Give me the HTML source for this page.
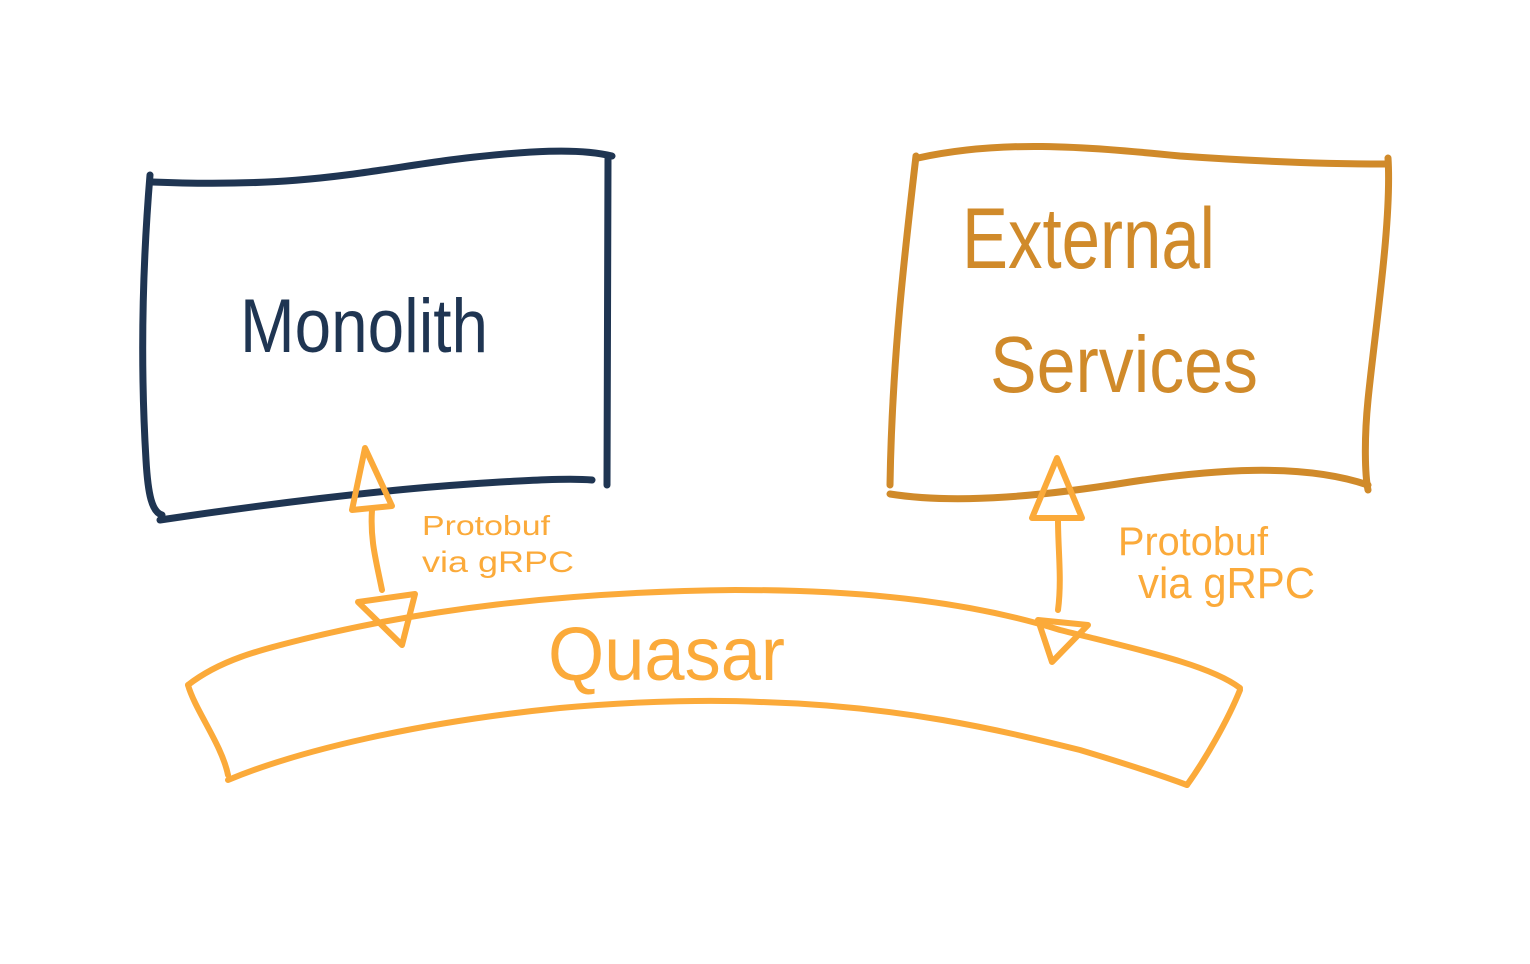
<!DOCTYPE html>
<html><head><meta charset="utf-8"><style>
html,body{margin:0;padding:0;background:#fff;}
svg{display:block}
text{font-family:"Liberation Sans",sans-serif;}
</style></head><body>
<svg width="1530" height="964" viewBox="0 0 1530 964" xmlns="http://www.w3.org/2000/svg">
<g fill="none" stroke-linecap="round" stroke-linejoin="round">
<g stroke="#1f3552" stroke-width="7">
<path d="M152,182 C300,188 360,172 450,160 C530,150 580,148 612,156"/>
<path d="M608,158 L607,485"/>
<path d="M160,520 C260,505 380,490 470,484 C530,480 570,478 592,480"/>
<path d="M150,175 C143,260 140,360 146,460 C148,495 152,512 162,515"/>
</g>
<g stroke="#d08a2a" stroke-width="7">
<path d="M918,158 C1000,140 1080,146 1180,156 C1280,163 1350,164 1385,164"/>
<path d="M1388,158 C1392,220 1375,330 1368,400 C1364,440 1365,475 1368,490"/>
<path d="M890,494 C960,505 1050,495 1130,482 C1210,470 1300,462 1368,485"/>
<path d="M916,156 C905,250 892,360 890,485"/>
</g>
<g stroke="#fbaa3a" stroke-width="6">
<path d="M188,685 C220,660 260,650 300,640 C420,610 560,592 735,590 C880,590 980,605 1060,630 C1140,650 1210,665 1240,688"/>
<path d="M228,780 C300,750 420,722 560,708 C650,700 720,700 760,702 C900,706 1000,730 1080,750 C1130,765 1160,775 1187,785"/>
<path d="M188,685 C195,710 222,745 228,775"/>
<path d="M1240,690 C1228,720 1205,760 1187,785"/>
<path d="M382,590 C376,560 370,540 372,510"/>
<path d="M365,448 L352,510 L392,506 Z"/>
<path d="M358,602 L415,594 L402,645 Z"/>
<path d="M1058,610 C1062,580 1058,550 1058,520"/>
<path d="M1057,458 L1032,518 L1082,518 Z"/>
<path d="M1038,620 L1088,625 L1052,662 Z"/>
</g>
</g>
<text x="240" y="352" font-size="76" fill="#1f3552" textLength="248" lengthAdjust="spacingAndGlyphs">Monolith</text>
<text x="962" y="268" font-size="86" fill="#d08a2a" textLength="253" lengthAdjust="spacingAndGlyphs">External</text>
<text x="990" y="392" font-size="80" fill="#d08a2a" textLength="268" lengthAdjust="spacingAndGlyphs">Services</text>
<text x="548" y="680" font-size="76" fill="#fbaa3a" textLength="237" lengthAdjust="spacingAndGlyphs">Quasar</text>
<text x="422" y="535" font-size="28" fill="#fbaa3a" textLength="128" lengthAdjust="spacingAndGlyphs">Protobuf</text>
<text x="422" y="572" font-size="30" fill="#fbaa3a" textLength="152" lengthAdjust="spacingAndGlyphs">via gRPC</text>
<text x="1118" y="555" font-size="40" fill="#fbaa3a" textLength="150" lengthAdjust="spacingAndGlyphs">Protobuf</text>
<text x="1138" y="598" font-size="44" fill="#fbaa3a" textLength="177" lengthAdjust="spacingAndGlyphs">via gRPC</text>
</svg>
</body></html>
